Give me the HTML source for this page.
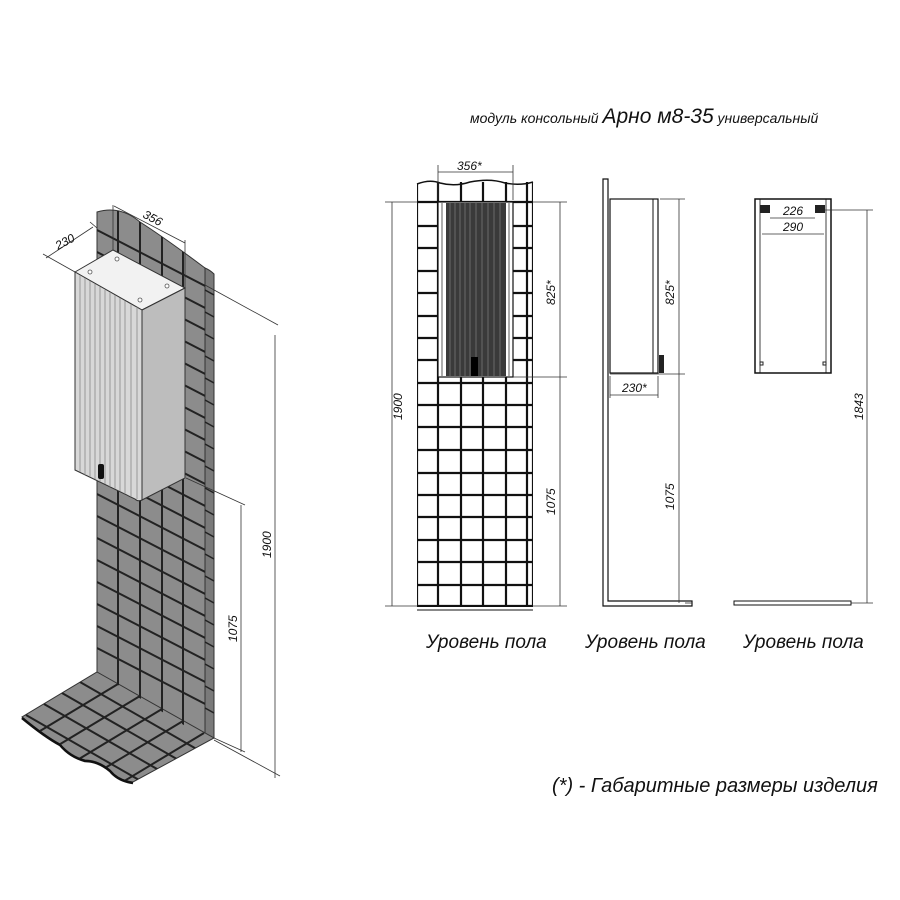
<!DOCTYPE html>
<html><head><meta charset="utf-8"><style>
html,body{margin:0;padding:0;background:#fff;}
svg{display:block;}
text{font-family:"Liberation Sans",sans-serif;font-style:italic;fill:#111;}
</style></head><body>
<svg width="900" height="900" viewBox="0 0 900 900" xmlns="http://www.w3.org/2000/svg">
<defs>
<clipPath id="wallc"><path d="M97,212 Q120,205 140,222 Q165,238 205,268 L205,738 L97,672 Z"/></clipPath>
<clipPath id="floorc"><path d="M97,672 L213,738 L133,782 Q118,780 110,770 Q98,760 85,760 Q70,756 60,744 Q45,736 22,717 Z"/></clipPath>
<clipPath id="frontc"><rect x="417" y="182" width="116" height="425"/></clipPath>
</defs>

<!-- Title -->
<text x="470" y="123" font-size="14">модуль консольный <tspan font-size="21">Арно м8-35</tspan> универсальный</text>

<!-- ============ ISOMETRIC ============ -->
<path d="M97,212 Q120,205 140,222 Q165,238 205,268 L205,738 L97,672 Z" fill="#8c8c8c" stroke="#333" stroke-width="1"/>
<path d="M205,268 Q210,270 214,274 L214,738 L205,738 Z" fill="#7a7a7a" stroke="#333" stroke-width="1"/>
<path d="M97,672 L214,738 L133,782 Q118,780 110,770 Q98,760 85,760 Q70,756 60,744 Q45,736 22,717 Z" fill="#8c8c8c" stroke="#333" stroke-width="1"/>
<path d="M133,783 Q118,781 110,771 Q98,761 85,761 Q70,757 60,745 Q45,737 22,718" fill="none" stroke="#111" stroke-width="2.5"/>
<g clip-path="url(#wallc)" stroke="#222" stroke-width="2">
<line x1="118" y1="150" x2="118" y2="800"/>
<line x1="140" y1="150" x2="140" y2="800"/>
<line x1="162" y1="150" x2="162" y2="800"/>
<line x1="183" y1="150" x2="183" y2="800"/>
<g id="hl">
<line x1="97" y1="230" x2="215" y2="291"/>
</g>
<use href="#hl" y="22"/><use href="#hl" y="44"/><use href="#hl" y="66"/><use href="#hl" y="88"/><use href="#hl" y="110"/><use href="#hl" y="132"/><use href="#hl" y="154"/><use href="#hl" y="176"/><use href="#hl" y="198"/><use href="#hl" y="220"/><use href="#hl" y="242"/><use href="#hl" y="264"/><use href="#hl" y="286"/><use href="#hl" y="308"/><use href="#hl" y="330"/><use href="#hl" y="352"/><use href="#hl" y="374"/><use href="#hl" y="396"/><use href="#hl" y="418"/>
</g>
<g stroke="#222" stroke-width="1.5">
<line x1="205" y1="290" x2="214" y2="295"/><line x1="205" y1="312" x2="214" y2="317"/><line x1="205" y1="334" x2="214" y2="339"/><line x1="205" y1="356" x2="214" y2="361"/><line x1="205" y1="378" x2="214" y2="383"/><line x1="205" y1="400" x2="214" y2="405"/><line x1="205" y1="422" x2="214" y2="427"/><line x1="205" y1="444" x2="214" y2="449"/><line x1="205" y1="466" x2="214" y2="471"/><line x1="205" y1="488" x2="214" y2="493"/><line x1="205" y1="510" x2="214" y2="515"/><line x1="205" y1="532" x2="214" y2="537"/><line x1="205" y1="554" x2="214" y2="559"/><line x1="205" y1="576" x2="214" y2="581"/><line x1="205" y1="598" x2="214" y2="603"/><line x1="205" y1="620" x2="214" y2="625"/><line x1="205" y1="642" x2="214" y2="647"/><line x1="205" y1="664" x2="214" y2="669"/><line x1="205" y1="686" x2="214" y2="691"/><line x1="205" y1="708" x2="214" y2="713"/>
</g>
<g clip-path="url(#floorc)" stroke="#222" stroke-width="2">
<line x1="118" y1="684" x2="30" y2="737"/>
<line x1="140" y1="696" x2="52" y2="749"/>
<line x1="162" y1="709" x2="74" y2="762"/>
<line x1="183" y1="721" x2="95" y2="774"/>
<line x1="204" y1="733" x2="116" y2="786"/>
<line x1="80" y1="682" x2="200" y2="751"/>
<line x1="62" y1="693" x2="182" y2="762"/>
<line x1="44" y1="704" x2="164" y2="773"/>
<line x1="26" y1="715" x2="146" y2="784"/>
</g>

<!-- cabinet -->
<path d="M75,272 L113,250 L185,288 L142,310 Z" fill="#f2f2f2" stroke="#333" stroke-width="1"/>
<path d="M142,310 L185,288 L185,478 L142,500 Z" fill="#bdbdbd" stroke="#333" stroke-width="1"/>
<path d="M75,272 L142,310 L142,500 Q138,502 135,499 L75,470 Z" fill="#d8d8d8" stroke="#333" stroke-width="1"/>
<g stroke="#888" stroke-width="0.8">
<line x1="80" y1="275" x2="80" y2="472"/><line x1="85" y1="278" x2="85" y2="475"/><line x1="90" y1="281" x2="90" y2="477"/><line x1="95" y1="284" x2="95" y2="479"/><line x1="100" y1="287" x2="100" y2="482"/><line x1="105" y1="290" x2="105" y2="484"/><line x1="110" y1="292" x2="110" y2="487"/><line x1="115" y1="295" x2="115" y2="489"/><line x1="120" y1="298" x2="120" y2="491"/><line x1="125" y1="301" x2="125" y2="494"/><line x1="131" y1="304" x2="131" y2="497"/><line x1="137" y1="307" x2="137" y2="499"/>
</g>
<g fill="#fff" stroke="#555" stroke-width="0.8">
<circle cx="90" cy="272" r="2"/><circle cx="117" cy="259" r="2"/><circle cx="167" cy="286" r="2"/><circle cx="140" cy="300" r="2"/>
</g>
<rect x="98" y="464" width="6" height="15" rx="2" fill="#111"/>

<!-- iso dims -->
<g stroke="#333" stroke-width="0.8" fill="none">
<line x1="75" y1="272" x2="43" y2="254"/>
<line x1="97" y1="228" x2="90" y2="222"/>
<line x1="46" y1="258" x2="93" y2="227"/>
<line x1="113" y1="205" x2="113" y2="250"/>
<line x1="185" y1="240" x2="185" y2="288"/>
<line x1="114" y1="206" x2="185" y2="243"/>
<line x1="205" y1="285" x2="278" y2="325"/>
<line x1="275" y1="335" x2="275" y2="778"/>
<line x1="214" y1="740" x2="280" y2="776"/>
<line x1="186" y1="478" x2="245" y2="505"/>
<line x1="241" y1="505" x2="241" y2="752"/>
<line x1="214" y1="738" x2="245" y2="752"/>
</g>
<text x="0" y="0" font-size="12" transform="translate(58,250) rotate(-28)">230</text>
<text x="0" y="0" font-size="12" transform="translate(142,217) rotate(28)">356</text>
<text x="0" y="0" font-size="12" transform="translate(271,558) rotate(-90)">1900</text>
<text x="0" y="0" font-size="12" transform="translate(237,642) rotate(-90)">1075</text>

<!-- ============ FRONT VIEW ============ -->
<rect x="417" y="182" width="116" height="425" fill="#fff"/>
<g clip-path="url(#frontc)" stroke="#111" stroke-width="2.2">
<line x1="417" y1="184" x2="417" y2="607"/><line x1="438" y1="182" x2="438" y2="607"/><line x1="461" y1="182" x2="461" y2="607"/><line x1="483" y1="182" x2="483" y2="607"/><line x1="506" y1="182" x2="506" y2="607"/><line x1="527" y1="182" x2="527" y2="607"/><line x1="533" y1="182" x2="533" y2="607"/>
<line x1="417" y1="202" x2="533" y2="202"/><line x1="417" y1="226" x2="533" y2="226"/><line x1="417" y1="248" x2="533" y2="248"/><line x1="417" y1="271" x2="533" y2="271"/><line x1="417" y1="293" x2="533" y2="293"/><line x1="417" y1="316" x2="533" y2="316"/><line x1="417" y1="338" x2="533" y2="338"/><line x1="417" y1="360" x2="533" y2="360"/><line x1="417" y1="383" x2="533" y2="383"/><line x1="417" y1="405" x2="533" y2="405"/><line x1="417" y1="427" x2="533" y2="427"/><line x1="417" y1="450" x2="533" y2="450"/><line x1="417" y1="473" x2="533" y2="473"/><line x1="417" y1="495" x2="533" y2="495"/><line x1="417" y1="517" x2="533" y2="517"/><line x1="417" y1="540" x2="533" y2="540"/><line x1="417" y1="562" x2="533" y2="562"/><line x1="417" y1="585" x2="533" y2="585"/><line x1="417" y1="606" x2="533" y2="606"/>
</g>
<path d="M417,184 Q430,179 440,183 Q455,187 470,182 Q490,178 505,183 Q520,186 533,182" fill="none" stroke="#111" stroke-width="1.5"/>
<line x1="417" y1="610" x2="533" y2="610" stroke="#111" stroke-width="1"/>
<rect x="438" y="202" width="75" height="175" fill="#fff" stroke="#111" stroke-width="1.2"/>
<rect x="446" y="203" width="60" height="173" fill="#3a3a3a"/>
<g stroke="#777" stroke-width="0.8">
<line x1="450" y1="203" x2="450" y2="376"/><line x1="455" y1="203" x2="455" y2="376"/><line x1="460" y1="203" x2="460" y2="376"/><line x1="465" y1="203" x2="465" y2="376"/><line x1="470" y1="203" x2="470" y2="376"/><line x1="476" y1="203" x2="476" y2="376"/><line x1="482" y1="203" x2="482" y2="376"/><line x1="488" y1="203" x2="488" y2="376"/><line x1="494" y1="203" x2="494" y2="376"/><line x1="500" y1="203" x2="500" y2="376"/>
</g>
<line x1="442" y1="203" x2="442" y2="376" stroke="#333" stroke-width="0.8"/>
<line x1="509" y1="203" x2="509" y2="376" stroke="#333" stroke-width="0.8"/>
<rect x="471" y="357" width="7" height="19" fill="#000"/>
<g stroke="#333" stroke-width="0.8">
<line x1="438" y1="165" x2="438" y2="200"/><line x1="513" y1="165" x2="513" y2="200"/>
<line x1="438" y1="172" x2="513" y2="172"/>
<line x1="385" y1="202" x2="417" y2="202"/><line x1="385" y1="606" x2="417" y2="606"/>
<line x1="392" y1="202" x2="392" y2="606"/>
<line x1="533" y1="202" x2="567" y2="202"/><line x1="513" y1="377" x2="567" y2="377"/><line x1="533" y1="606" x2="567" y2="606"/>
<line x1="560" y1="202" x2="560" y2="606"/>
</g>
<text x="457" y="170" font-size="12">356*</text>
<text x="0" y="0" font-size="12" transform="translate(402,420) rotate(-90)">1900</text>
<text x="0" y="0" font-size="12" transform="translate(555,305) rotate(-90)">825*</text>
<text x="0" y="0" font-size="12" transform="translate(555,515) rotate(-90)">1075</text>

<!-- ============ SIDE VIEW ============ -->
<path d="M603,179 L608,179 L608,601 L692,601 L692,606 L603,606 Z" fill="#fff" stroke="#111" stroke-width="1.2"/>
<rect x="610" y="199" width="48" height="174" fill="#fff" stroke="#111" stroke-width="1.2"/>
<line x1="653" y1="199" x2="653" y2="373" stroke="#111" stroke-width="1"/>
<rect x="659" y="355" width="5" height="18" fill="#222"/>
<g stroke="#333" stroke-width="0.8">
<line x1="660" y1="199" x2="685" y2="199"/><line x1="610" y1="374" x2="685" y2="374"/><line x1="692" y1="603" x2="685" y2="603"/>
<line x1="679" y1="199" x2="679" y2="603"/>
<line x1="610" y1="376" x2="610" y2="398"/><line x1="658" y1="376" x2="658" y2="398"/>
<line x1="610" y1="395" x2="658" y2="395"/>
</g>
<text x="622" y="392" font-size="12">230*</text>
<text x="0" y="0" font-size="12" transform="translate(674,305) rotate(-90)">825*</text>
<text x="0" y="0" font-size="12" transform="translate(674,510) rotate(-90)">1075</text>

<!-- ============ BACK VIEW ============ -->
<rect x="755" y="199" width="76" height="174" fill="#fff" stroke="#111" stroke-width="1.5"/>
<line x1="760" y1="199" x2="760" y2="373" stroke="#111" stroke-width="0.8"/>
<line x1="826" y1="199" x2="826" y2="373" stroke="#111" stroke-width="0.8"/>
<rect x="760" y="205" width="10" height="8" fill="#222"/>
<rect x="815" y="205" width="10" height="8" fill="#222"/>
<rect x="760" y="362" width="3" height="3" fill="none" stroke="#222"/>
<rect x="823" y="362" width="3" height="3" fill="none" stroke="#222"/>
<g stroke="#333" stroke-width="0.8">
<line x1="770" y1="218" x2="815" y2="218"/>
<line x1="762" y1="234" x2="824" y2="234"/>
<line x1="825" y1="210" x2="873" y2="210"/>
<line x1="867" y1="210" x2="867" y2="603"/>
<line x1="851" y1="603" x2="873" y2="603"/>
</g>
<path d="M734,601 L851,601 L851,605 L734,605 Z" fill="#fff" stroke="#111" stroke-width="1"/>
<text x="783" y="215" font-size="12">226</text>
<text x="783" y="231" font-size="12">290</text>
<text x="0" y="0" font-size="12" transform="translate(863,420) rotate(-90)">1843</text>

<!-- labels -->
<text x="426" y="648" font-size="19">Уровень пола</text>
<text x="585" y="648" font-size="19">Уровень пола</text>
<text x="743" y="648" font-size="19">Уровень пола</text>
<text x="552" y="792" font-size="20">(*) - Габаритные размеры изделия</text>
</svg>
</body></html>
